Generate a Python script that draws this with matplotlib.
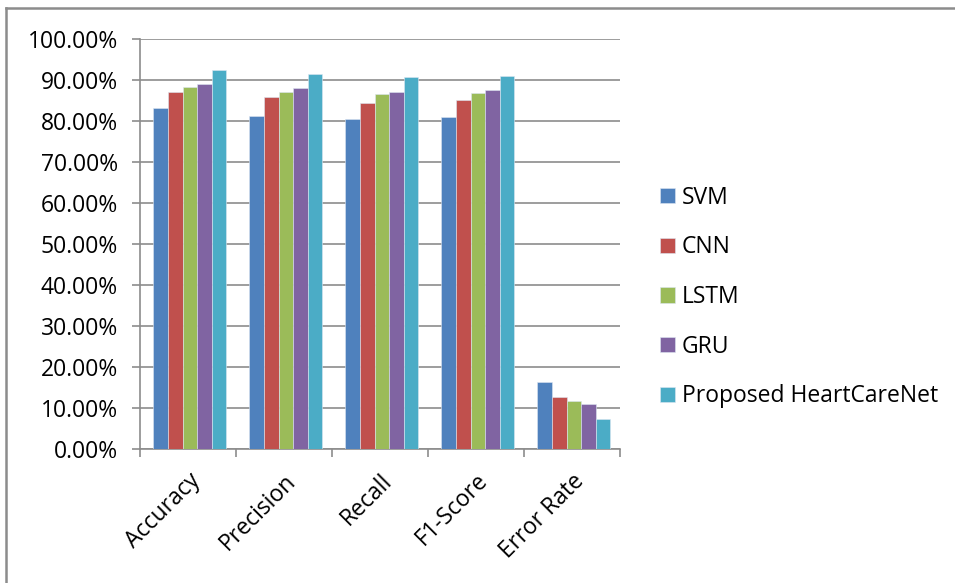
import numpy as np
import matplotlib
matplotlib.use('Agg')
import matplotlib.pyplot as plt
from matplotlib.lines import Line2D
from matplotlib.ticker import PercentFormatter

plt.rcParams['font.family'] = ['Open Sans', 'DejaVu Sans']

metrics = ['Accuracy', 'Precision', 'Recall', 'F1-Score', 'Error Rate']
models  = ['SVM', 'CNN', 'LSTM', 'GRU', 'Proposed HeartCareNet']
colors  = ['#4F81BD', '#C0504D', '#9BBB59', '#8064A2', '#4BACC6']

# scores per model, one value per metric (fractions)
svm      = [0.833, 0.812, 0.805, 0.809, 0.165]
cnn      = [0.871, 0.858, 0.843, 0.851, 0.129]
lstm     = [0.883, 0.871, 0.866, 0.868, 0.117]
gru      = [0.890, 0.880, 0.872, 0.875, 0.110]
proposed = [0.925, 0.914, 0.908, 0.911, 0.075]
scores = [svm, cnn, lstm, gru, proposed]

fs = 16.5

fig = plt.figure(figsize=(9.55, 5.83), dpi=100)
ax = fig.add_axes([0.1466, 0.229, 0.5026, 0.704])

x = np.arange(len(metrics))
w = 0.152
for i, (name, vals, c) in enumerate(zip(models, scores, colors)):
    ax.bar(x + (i - 2) * w + 0.02, vals, w, color=c, label=name,
           edgecolor='#dce6f2', linewidth=0.4, zorder=3)

grid_c = '#8c8c8c'
ax.set_xlim(-0.5, len(metrics) - 0.5)
ax.set_ylim(0, 1.0)
ax.set_yticks(np.arange(0, 1.01, 0.1))
ax.yaxis.set_major_formatter(PercentFormatter(1.0, decimals=2))
ax.yaxis.grid(True, color=grid_c, linewidth=1.2, zorder=0)

ax.set_xticks(x)
ax.set_xticklabels(metrics, rotation=45, ha='right', rotation_mode='anchor')
ax.set_xticks(np.arange(-0.5, len(metrics)), minor=True)
ax.tick_params(axis='x', which='major', length=0, labelsize=fs, pad=14)
ax.tick_params(axis='x', which='minor', length=6, width=1.2, color=grid_c)
ax.tick_params(axis='y', length=6, width=1.2, color=grid_c, labelsize=fs, pad=10)

for s in ['top', 'right']:
    ax.spines[s].set_visible(False)
for s in ['left', 'bottom']:
    ax.spines[s].set_color(grid_c)
    ax.spines[s].set_linewidth(1.2)

fig.legend(loc='center left', bbox_to_anchor=(0.691, 0.4906), frameon=False,
           fontsize=fs, handlelength=0.66, handleheight=0.66,
           handletextpad=0.3, labelspacing=1.12, borderpad=0, borderaxespad=0)

# chart frame (left and top edges)
fig.add_artist(Line2D([0.0068, 0.0068], [0.0, 0.986], color='#8c8c8c', linewidth=1.8))
fig.add_artist(Line2D([0.0068, 1.0], [0.986, 0.986], color='#8c8c8c', linewidth=1.8))

fig.savefig('out.png', dpi=100, facecolor='white')
